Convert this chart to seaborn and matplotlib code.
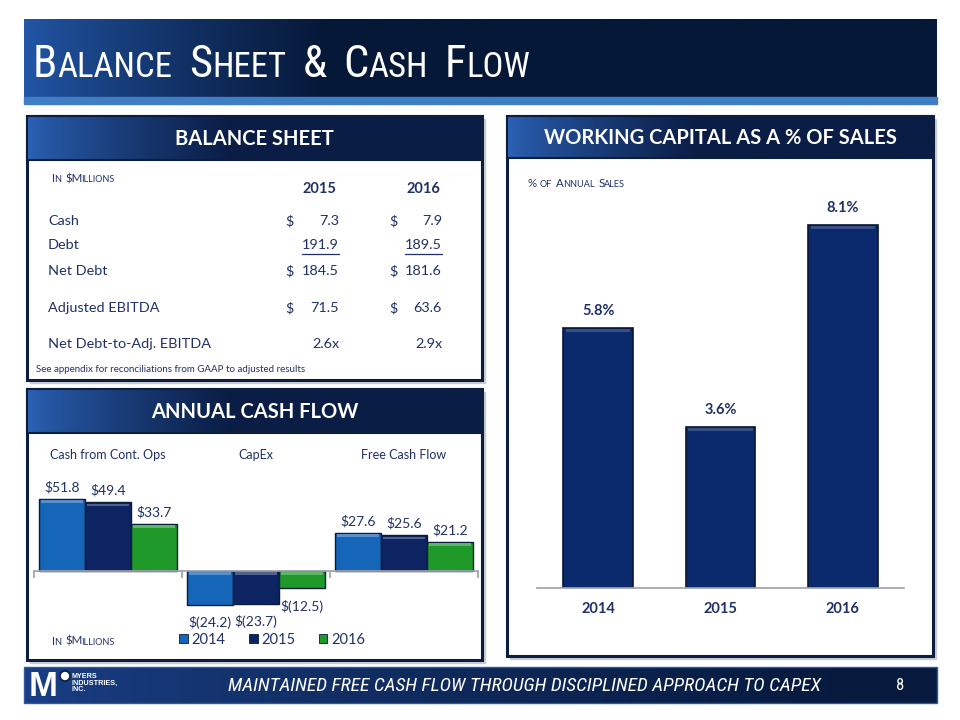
import matplotlib
matplotlib.use("Agg")
import matplotlib.pyplot as plt
import seaborn as sns
import numpy as np
import pandas as pd
from matplotlib.patches import Rectangle, Patch
from matplotlib import transforms, colors as mcolors
from matplotlib import font_manager as fm

# ---------------- data ----------------
bs_years = ["2015", "2016"]
bs_rows = ["Cash", "Debt", "Net Debt", "Adjusted EBITDA", "Net Debt-to-Adj. EBITDA"]
bs_2015 = ["7.3", "191.9", "184.5", "71.5", "2.6x"]
bs_2016 = ["7.9", "189.5", "181.6", "63.6", "2.9x"]
bs_dollar = [True, False, True, True, False]

cf_metrics = ["Cash from Cont. Ops", "CapEx", "Free Cash Flow"]
cf_years = ["2014", "2015", "2016"]
cf_ops = [51.8, 49.4, 33.7]
cf_capex = [-24.2, -23.7, -12.5]
cf_fcf = [27.6, 25.6, 21.2]

wc_years = ["2014", "2015", "2016"]
wc_values = [5.8, 3.6, 8.1]

# ---------------- style ----------------
sns.set_theme(style="white")
plt.rcParams["font.family"] = ["Lato", "DejaVu Sans"]
NAVY_TXT = "#1f3068"
C14, C15, C16 = "#1565b8", "#0c2461", "#1f9a2a"
WC_BAR = "#0b2a6e"

# pick a narrow face for title / footer
_entries = fm.fontManager.ttflist
_names = {f.name for f in _entries}
NARROW = None
for cand in ["Liberation Sans Narrow", "Arial Narrow", "Roboto Condensed", "Open Sans Condensed"]:
    if cand in _names:
        NARROW = dict(family=[cand, "DejaVu Sans"])
        SCALE = 1.0
        break
if NARROW is None:
    if any(f.name == "DejaVu Sans" and "condensed" in str(f.stretch) for f in _entries):
        NARROW = dict(family=["DejaVu Sans"], fontstretch="condensed")
        SCALE = 1.03
    else:
        NARROW = dict(family=["Liberation Sans", "DejaVu Sans"])
        SCALE = 0.9

fig = plt.figure(figsize=(9.6, 7.2), dpi=100)
fig.patch.set_facecolor("white")
bg = fig.add_axes([0, 0, 1, 1])
bg.set_xlim(0, 960)
bg.set_ylim(720, 0)
bg.axis("off")
renderer = fig.canvas.get_renderer()


def grad(x0, y0, x1, y1, c_left, c_right, frac, z=1):
    w, h = 300, 40
    xs = np.linspace(0, 1, w)
    t = np.clip(xs / frac, 0, 1) ** 0.8
    a = np.array(mcolors.to_rgb(c_left))
    b = np.array(mcolors.to_rgb(c_right))
    row = a[None, :] * (1 - t[:, None]) + b[None, :] * t[:, None]
    arr = np.repeat(row[None, :, :], h, axis=0)
    bg.imshow(arr, extent=(x0, x1, y1, y0), aspect="auto", zorder=z, interpolation="bilinear")


def smallcaps(x, y, text, big, small, color, weight="normal", z=10, adj=0.3, space=0.27, **kw):
    runs = []
    for ch in text:
        if ch == " ":
            runs.append([" ", None])
            continue
        sm = ch.islower()
        if runs and runs[-1][1] == sm:
            runs[-1][0] += ch.upper()
        else:
            runs.append([ch.upper(), sm])
    for s, sm in runs:
        if sm is None:
            x += space * big * 100 / 72
            continue
        t = bg.text(x, y, s, fontsize=small if sm else big, color=color, ha="left",
                    va="baseline", fontweight=weight, zorder=z, **kw)
        bb = t.get_window_extent(renderer=renderer)
        x += bb.width + adj


def bevel(ax, px_per_unit, strip_px=4, mix=0.3):
    for p in list(ax.patches):
        h = p.get_height()
        if h == 0:
            continue
        x, w = p.get_x(), p.get_width()
        top = max(p.get_y(), p.get_y() + h)
        fc = np.array(mcolors.to_rgb(p.get_facecolor()))
        light = fc * (1 - mix) + np.ones(3) * mix
        th = strip_px / px_per_unit
        inset = w * 0.04
        ax.add_patch(Rectangle((x + inset, top - th), w - 2 * inset, th - 1.2 / px_per_unit,
                               facecolor=light, edgecolor="none", zorder=p.get_zorder() + 0.1))


# ---------------- title banner ----------------
grad(24, 19, 937, 97, "#2257a8", "#061838", 0.33, z=1)
bg.add_patch(Rectangle((24, 97), 913, 7, color="#3f7ec4", zorder=2))
smallcaps(33, 77, "Balance Sheet & Cash Flow", 32 * SCALE, 25 * SCALE, "white", space=0.36, **NARROW)

# ---------------- panels ----------------
def panel(x0, y0, x1, y1, hh, title):
    bg.add_patch(Rectangle((x0 + 3, y0 + 3), x1 - x0, y1 - y0, color="#c8ccd4", zorder=1))
    bg.add_patch(Rectangle((x0, y0), x1 - x0, y1 - y0, facecolor="white",
                           edgecolor="#0d1d40", lw=2.2, zorder=2))
    grad(x0, y0, x1, y0 + hh, "#2c62b6", "#0a1d45", 0.45, z=3)
    bg.add_patch(Rectangle((x0, y0), x1 - x0, hh, facecolor="none",
                           edgecolor="#0d1d40", lw=1.5, zorder=4))
    bg.text((x0 + x1) / 2, y0 + hh / 2 + 1, title, color="white", fontsize=14.5,
            fontweight="bold", ha="center", va="center", zorder=5)

panel(27, 116, 482, 380, 44, "BALANCE SHEET")
panel(27, 389, 482, 660, 44, "ANNUAL CASH FLOW")
panel(507, 116, 933, 656, 42, "WORKING CAPITAL AS A % OF SALES")

# ---------------- balance sheet table ----------------
TS = 10.4
SC = dict(adj=-0.9, space=0.42)
smallcaps(52, 182, "In $Millions", 8.3, 6.6, NAVY_TXT, **SC)
bg.text(319, 189, bs_years[0], color=NAVY_TXT, fontsize=10.5, fontweight="bold", ha="center", va="center", zorder=10)
bg.text(423, 189, bs_years[1], color=NAVY_TXT, fontsize=10.5, fontweight="bold", ha="center", va="center", zorder=10)
row_y = [221, 245, 271, 308, 344]
for lab, v15, v16, dol, yy in zip(bs_rows, bs_2015, bs_2016, bs_dollar, row_y):
    bg.text(48, yy, lab, color=NAVY_TXT, fontsize=TS, ha="left", va="center", zorder=10)
    if dol:
        bg.text(285, yy, "$", color=NAVY_TXT, fontsize=TS, ha="left", va="center", zorder=10)
        bg.text(389, yy, "$", color=NAVY_TXT, fontsize=TS, ha="left", va="center", zorder=10)
    t1 = bg.text(339, yy, v15, color=NAVY_TXT, fontsize=TS, ha="right", va="center", zorder=10)
    t2 = bg.text(442, yy, v16, color=NAVY_TXT, fontsize=TS, ha="right", va="center", zorder=10)
    if lab == "Debt":
        for t, xr in ((t1, 339), (t2, 442)):
            wdt = t.get_window_extent(renderer=renderer).width
            bg.plot([xr - wdt, xr], [yy + 9, yy + 9], color=NAVY_TXT, lw=0.9, zorder=10)
bg.text(36, 369, "See appendix for reconciliations from GAAP to adjusted results",
        color=NAVY_TXT, fontsize=7, ha="left", va="center", zorder=10)

# ---------------- annual cash flow chart ----------------
cf_df = pd.DataFrame({
    "metric": np.repeat(cf_metrics, len(cf_years)),
    "year": cf_years * len(cf_metrics),
    "value": cf_ops + cf_capex + cf_fcf,
})
ax1 = fig.add_axes([34 / 960, 1 - 625 / 720, 444 / 960, 155 / 720])
ax1.set_facecolor("none")
sns.barplot(data=cf_df, x="metric", y="value", hue="year", order=cf_metrics,
            hue_order=cf_years, palette=[C14, C15, C16], width=0.93, gap=0,
            edgecolor="#0a1a3a", linewidth=1.0, saturation=1, ax=ax1, legend=False)
ax1.set_xlim(-0.5, 2.5)
ax1.set_ylim(-38.8, 72.7)
for cont in ax1.containers:
    vals = [b.get_height() for b in cont]
    pos = [f"${v:.1f}" if v >= 0 else "" for v in vals]
    neg = [f"$({abs(v):.1f})" if v < 0 else "" for v in vals]
    ax1.bar_label(cont, labels=pos, padding=4, color=NAVY_TXT, fontsize=10)
    ax1.bar_label(cont, labels=neg, padding=8, color=NAVY_TXT, fontsize=10)
bevel(ax1, 155 / (72.7 + 38.8), mix=0.28)
for s in ["top", "right", "left"]:
    ax1.spines[s].set_visible(False)
ax1.spines["bottom"].set_position(("data", 0))
ax1.spines["bottom"].set_color("#a0a4ab")
ax1.set_xticks([-0.5, 0.5, 1.5, 2.5])
ax1.set_xticklabels([])
ax1.tick_params(axis="x", bottom=True, length=5, color="#a0a4ab", direction="out")
ax1.set_yticks([])
ax1.set_xlabel("")
ax1.set_ylabel("")
tr = transforms.blended_transform_factory(ax1.transData, bg.transData)
for i, m in enumerate(cf_metrics):
    ax1.text(i, 455, m, transform=tr, color=NAVY_TXT, fontsize=9, ha="center", va="center")
smallcaps(52, 645, "In $Millions", 8.3, 6.6, NAVY_TXT, **SC)
handles = [Patch(facecolor=c, edgecolor="#0a1a3a", lw=0.6) for c in (C14, C15, C16)]
ax1.legend(handles, cf_years, ncol=3, loc="center left",
           bbox_to_anchor=(166 / 960, 1 - 640 / 720), bbox_transform=fig.transFigure,
           frameon=False, handlelength=0.6, handleheight=0.6, columnspacing=1.6,
           handletextpad=0.25, fontsize=10.5, labelcolor=NAVY_TXT)

# ---------------- working capital chart ----------------
wc_df = pd.DataFrame({"year": wc_years, "value": wc_values})
ax2 = fig.add_axes([537 / 960, 1 - 588 / 720, 367 / 960, 388 / 720])
ax2.set_facecolor("none")
sns.barplot(data=wc_df, x="year", y="value", color=WC_BAR, width=0.57, saturation=1,
            edgecolor="#081633", linewidth=1.2, ax=ax2)
ax2.set_xlim(-0.5, 2.5)
ax2.set_ylim(0, 8.66)
ax2.bar_label(ax2.containers[0], labels=[f"{v:.1f}%" for v in wc_values], padding=7,
              color=NAVY_TXT, fontsize=10.5, fontweight="bold")
bevel(ax2, 388 / 8.66, mix=0.18)
for s in ["top", "right", "left"]:
    ax2.spines[s].set_visible(False)
ax2.spines["bottom"].set_color("#a0a4ab")
ax2.set_yticks([])
ax2.tick_params(axis="x", length=0, pad=10, labelsize=10.5, labelcolor=NAVY_TXT)
for lab in ax2.get_xticklabels():
    lab.set_fontweight("bold")
ax2.set_xlabel("")
ax2.set_ylabel("")
smallcaps(527, 187, "% of Annual Sales", 8.3, 6.6, NAVY_TXT, **SC)

# ---------------- footer ----------------
grad(24, 667, 937, 703, "#1a3f86", "#071a3e", 0.9, z=1)
bg.add_patch(Rectangle((24, 667), 913, 36, facecolor="none", edgecolor="#2d5aa0", lw=1, zorder=2))
bg.text(29, 687, "M", color="white", fontsize=25, fontweight="heavy", ha="left", va="center", zorder=5,
        family=["Liberation Sans", "DejaVu Sans"])
bg.add_patch(plt.Circle((65, 676), 5, facecolor="white", edgecolor="#0a1d45", lw=1.2, zorder=6))
bg.text(72, 683, "MYERS\nINDUSTRIES,\nINC.", color="white", fontsize=5.2, fontweight="bold",
        ha="left", va="center", zorder=5, linespacing=0.9, family=["Liberation Sans", "DejaVu Sans"])
bg.text(524, 686, "MAINTAINED FREE CASH FLOW THROUGH DISCIPLINED APPROACH TO CAPEX", color="white",
        fontsize=14 * SCALE, style="italic", ha="center", va="center", zorder=5, **NARROW)
bg.text(900, 686, "8", color="white", fontsize=12, ha="center", va="center", zorder=5, **NARROW)

fig.savefig("out.png", dpi=100)
